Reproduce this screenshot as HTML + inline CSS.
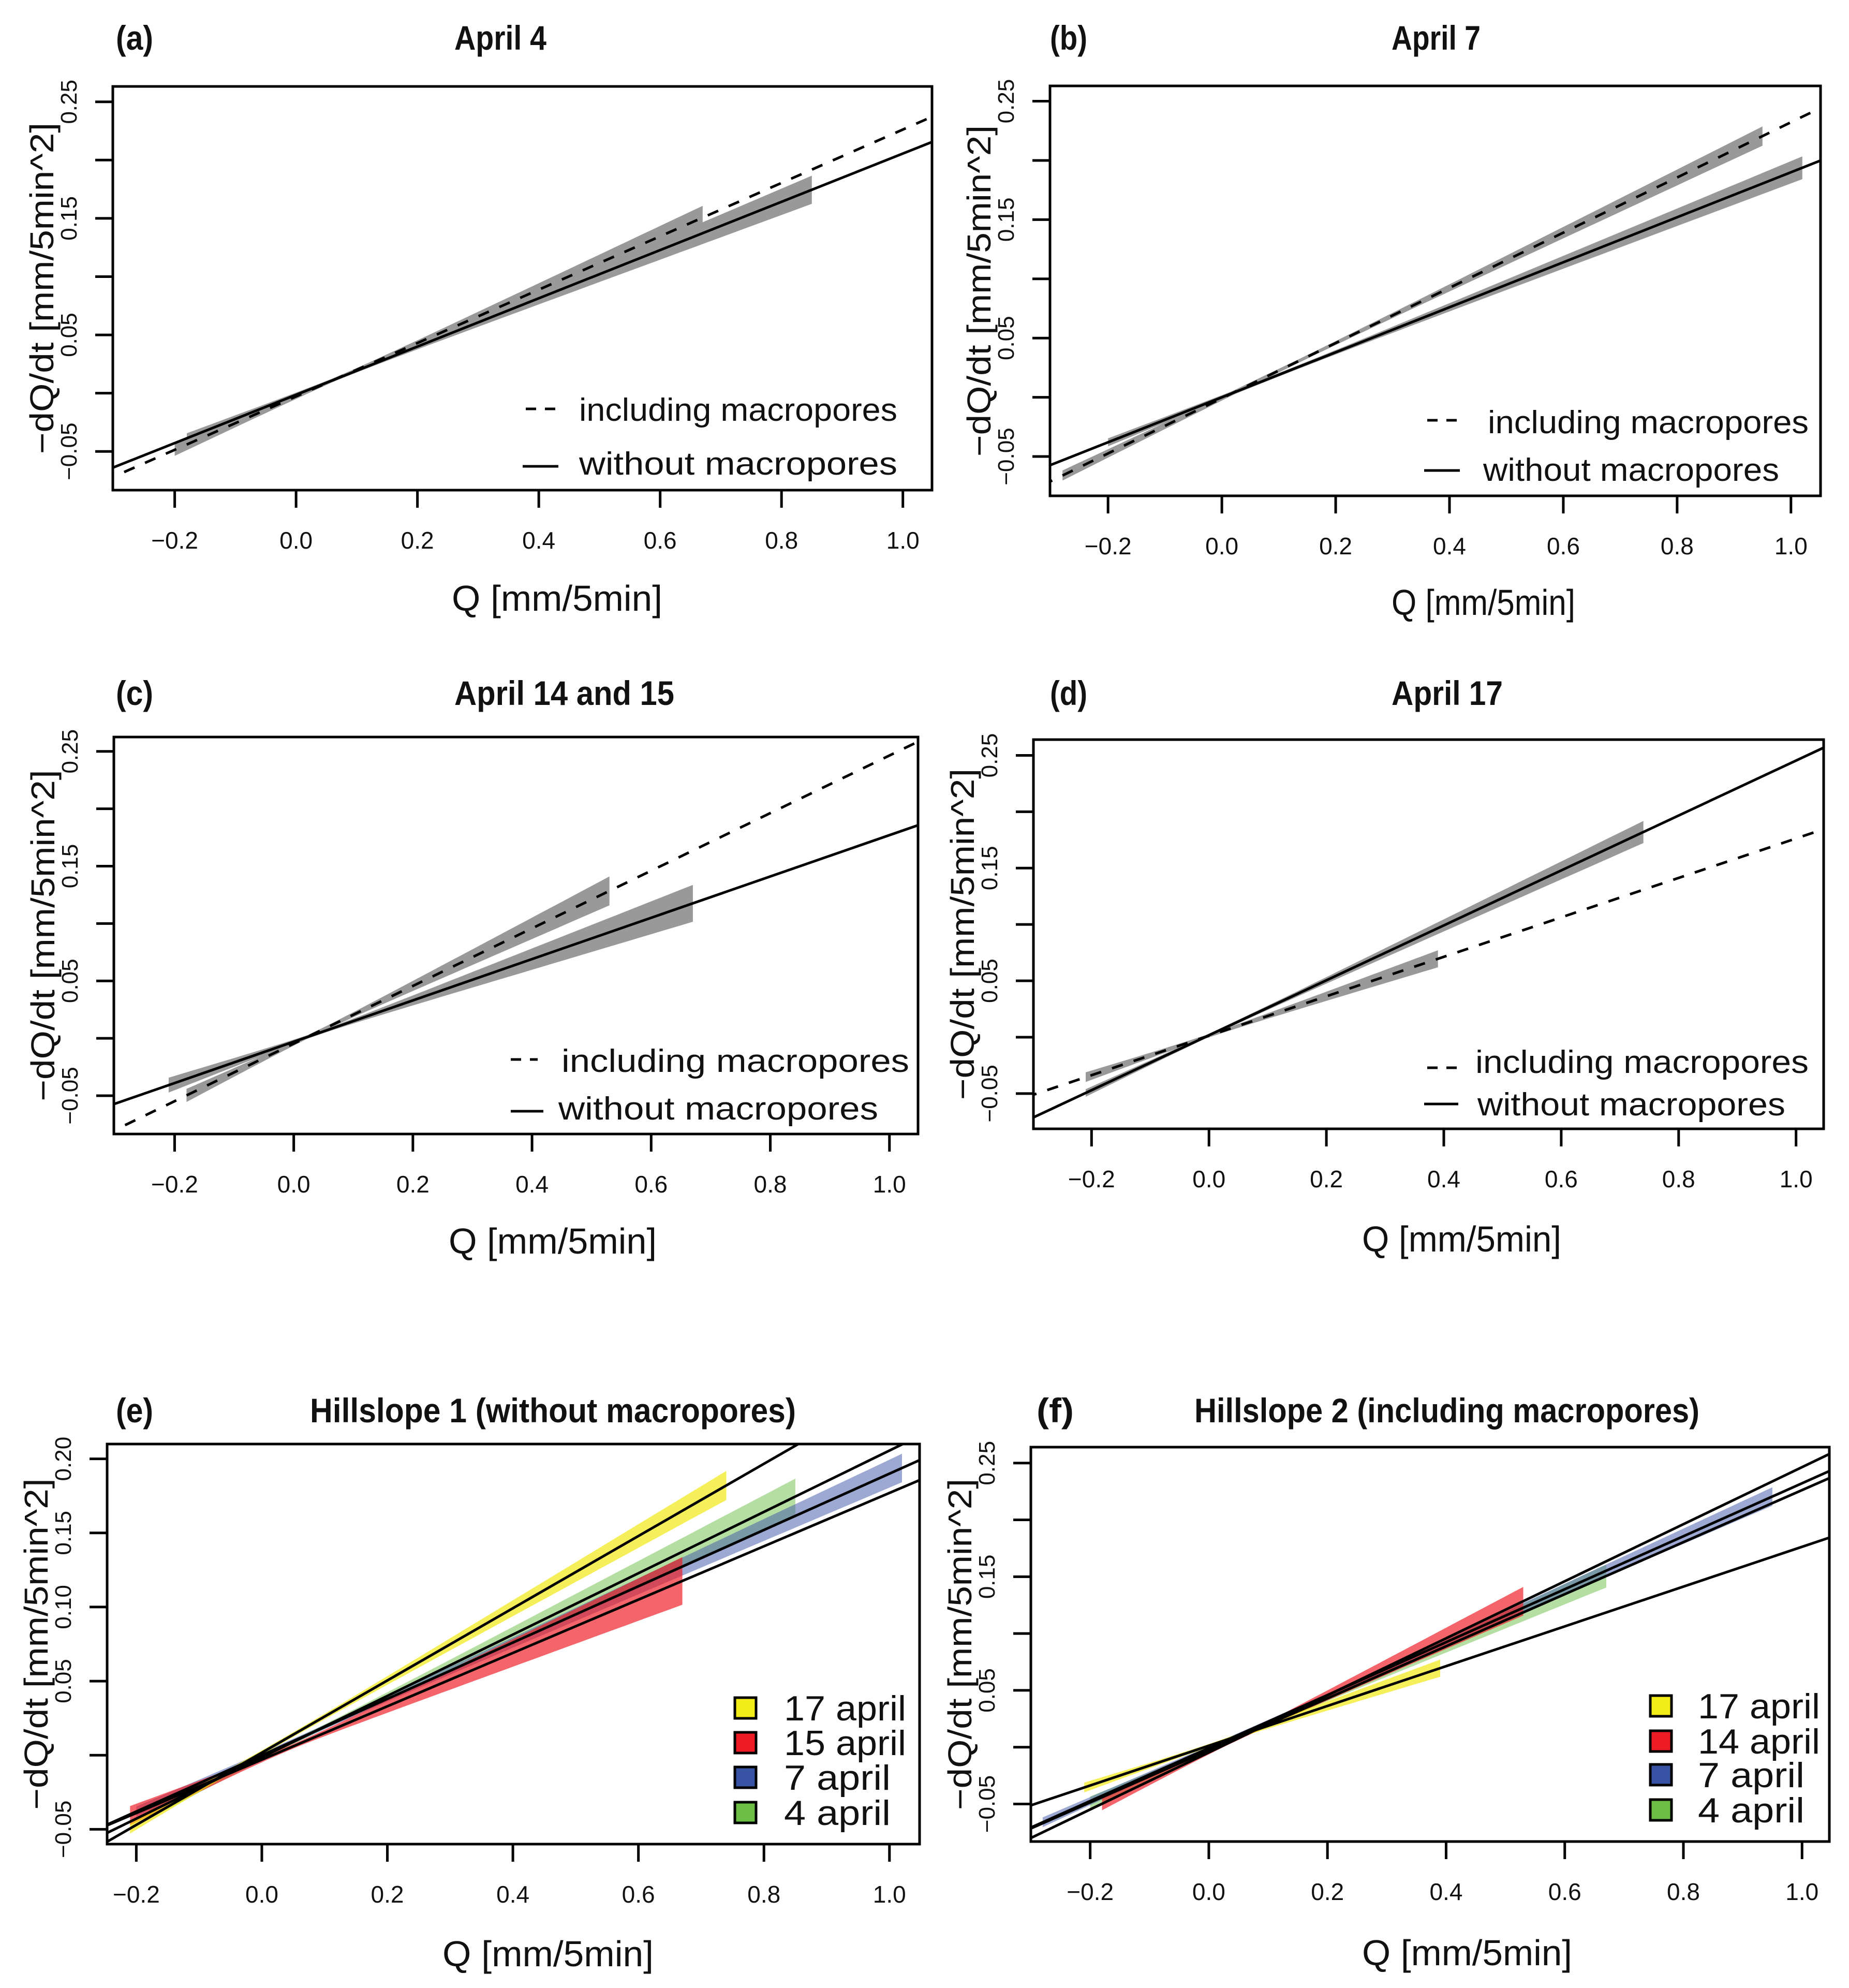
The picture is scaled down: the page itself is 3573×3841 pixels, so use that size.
<!DOCTYPE html>
<html><head><meta charset="utf-8">
<style>
html,body{margin:0;padding:0;background:#fff;}
svg{display:block;}
text{font-family:"Liberation Sans",sans-serif;fill:#111;}
</style></head>
<body>
<svg id="fig" width="3573" height="3841" viewBox="0 0 3573 3841" xmlns="http://www.w3.org/2000/svg"></svg>
<script>
// ---- data (panels a-d: April 4, April 7, April 14 and 15, April 17) ----
const panelDates = ['April 4','April 7','April 14 and 15','April 17'];
const slopeIncl = [0.229, 0.233, 0.251, 0.175];
const interIncl = [-0.0028, -0.0008, -0.0046, 0.0013];
const slopeWith = [0.207, 0.190, 0.180, 0.2437];
const interWith = [-0.0014, 0.0, -0.003, 0.0017];
const bandInclStart = [-0.20, -0.28, -0.18, -0.21];
const bandInclEnd = [0.67, 0.95, 0.53, 0.39];
const bandInclHalf0 = [0.005, 0.004, 0.0055, 0.004];
const bandInclHalf1 = [0.010, 0.008, 0.0125, 0.0074];
const bandWithStart = [-0.18, -0.20, -0.21, -0.21];
const bandWithEnd = [0.85, 1.02, 0.67, 0.74];
const bandWithHalf0 = [0.004, 0.003, 0.0063, 0.003];
const bandWithHalf1 = [0.012, 0.0095, 0.016, 0.0097];
const xTicks = [-0.2, 0.0, 0.2, 0.4, 0.6, 0.8, 1.0];
const xTickLabels = ['\u22120.2','0.0','0.2','0.4','0.6','0.8','1.0'];
const yTicks = [-0.05, 0.0, 0.05, 0.10, 0.15, 0.20, 0.25];
const yTickLabels = ['\u22120.05','','0.05','','0.15','','0.25'];
const yTicksE = [-0.05, 0.0, 0.05, 0.10, 0.15, 0.20];
const yTickLabelsE = ['\u22120.05','','0.05','0.10','0.15','0.20'];
const legendE = ['17 april','15 april','7 april','4 april'];
const legendF = ['17 april','14 april','7 april','4 april'];
const legendIdx = [3, 2, 1, 0];

const NS = 'http://www.w3.org/2000/svg';
const fig = document.getElementById('fig');
const bandFill = ['rgba(108,190,69,0.5)','rgba(59,84,168,0.5)','rgba(237,28,36,0.68)','rgba(240,232,0,0.65)'];
const swatch = ['#6cbe45','#3953a4','#ed1c24','#f2ec1a'];

function mk(tag, attrs, parent){
  const e = document.createElementNS(NS, tag);
  for (const k in attrs) e.setAttribute(k, attrs[k]);
  (parent||fig).appendChild(e);
  return e;
}
function txt(s, x, y, size, opts, parent){
  const t = mk('text', Object.assign({x:x, y:y, 'font-size':size}, opts||{}), parent);
  t.textContent = s;
  return t;
}

const panels = [
 {id:'a', box:[218,167,1801,947], xlim:[-0.302,1.048], ylim:[-0.0832,0.2632], lab:'(a)', labX:224, title:panelDates[0], tX:878, tW:178, tY:96, xtX:873, xtW:407, xtY:1180,
   leg:[1016,1073,790,1119,615,813, 1010,1079,901,1119,615,917]},
 {id:'b', box:[2029,166,3518,958], xlim:[-0.302,1.052], ylim:[-0.0832,0.2629], lab:'(b)', labX:2029, title:panelDates[1], tX:2689, tW:172, tY:96, xtX:2689, xtW:355, xtY:1188,
   leg:[2758,2815,812,2875,620,837, 2752,2821,909,2866,572,929]},
 {id:'c', box:[220,1424,1774,2191], xlim:[-0.302,1.048], ylim:[-0.0834,0.2625], lab:'(c)', labX:224, title:panelDates[2], tX:878, tW:425, tY:1362, xtX:867, xtW:402, xtY:2422,
   leg:[987,1039,2047,1085,672,2071, 987,1050,2147,1079,618,2163]},
 {id:'d', box:[1997,1429,3524,2181], xlim:[-0.299,1.047], ylim:[-0.0813,0.264], lab:'(d)', labX:2029, title:panelDates[3], tX:2689, tW:215, tY:1362, xtX:2632, xtW:385, xtY:2418,
   leg:[2758,2815,2063,2851,644,2073, 2752,2818,2133,2855,595,2155]},
 {id:'e', box:[207,2790,1777,3563], xlim:[-0.2465,1.048], ylim:[-0.060,0.210], lab:'(e)', labX:224, title:'Hillslope 1 (without macropores)', tX:599, tW:939, tY:2748, xtX:855, xtW:408, xtY:3799},
 {id:'f', box:[1992,2796,3535,3558], xlim:[-0.300,1.046], ylim:[-0.083,0.264], lab:'(f)', labX:2003, title:'Hillslope 2 (including macropores)', tX:2308, tW:976, tY:2748, xtX:2632, xtW:406, xtY:3797}
];

function bandPath(sx, sy, m, b, x0, x1, h0, h1){
  const xc = (h1*x0 + h0*x1)/(h0+h1);
  const c = (h0+h1)/(x1-x0);
  const hmin = 0.0015;
  const up = [], lo = [];
  const N = 48;
  for (let i=0;i<=N;i++){
    const x = x0 + (x1-x0)*i/N;
    const h = Math.sqrt(hmin*hmin + c*c*(x-xc)*(x-xc));
    const y = m*x + b;
    up.push(sx(x).toFixed(1)+','+sy(y+h).toFixed(1));
    lo.push(sx(x).toFixed(1)+','+sy(y-h).toFixed(1));
  }
  return 'M'+up.join('L')+'L'+lo.reverse().join('L')+'Z';
}

panels.forEach((p, pi) => {
  const [L,T,R,B] = p.box;
  const sx = v => L + (v - p.xlim[0])/(p.xlim[1]-p.xlim[0])*(R-L);
  const sy = v => B - (v - p.ylim[0])/(p.ylim[1]-p.ylim[0])*(B-T);
  const g = mk('g', {});
  
  
  const cp = mk('clipPath', {id:'clip-'+p.id}, g);
  mk('rect', {x:L, y:T, width:R-L, height:B-T}, cp);
  const plot = mk('g', {'clip-path':'url(#clip-'+p.id+')'}, g);
  
  

  if (pi < 4) {
    // grey confidence bands
    const bi = mk('path', {d:bandPath(sx,sy,slopeIncl[pi],interIncl[pi],bandInclStart[pi],bandInclEnd[pi],bandInclHalf0[pi],bandInclHalf1[pi]), fill:'#999999'}, plot);
    
    
    const bw = mk('path', {d:bandPath(sx,sy,slopeWith[pi],interWith[pi],bandWithStart[pi],bandWithEnd[pi],bandWithHalf0[pi],bandWithHalf1[pi]), fill:'#999999'}, plot);
    
    
    const xa = p.xlim[0]-0.05, xb = p.xlim[1]+0.05;
    const ld = mk('line', {x1:sx(xa), y1:sy(slopeIncl[pi]*xa+interIncl[pi]), x2:sx(xb), y2:sy(slopeIncl[pi]*xb+interIncl[pi]), stroke:'#000', 'stroke-width':5, 'stroke-dasharray':'22 22'}, plot);
    
    
    const ls = mk('line', {x1:sx(xa), y1:sy(slopeWith[pi]*xa+interWith[pi]), x2:sx(xb), y2:sy(slopeWith[pi]*xb+interWith[pi]), stroke:'#000', 'stroke-width':5}, plot);
    
    
  } else {
    const useWith = (p.id === 'e');
    const sl = useWith ? slopeWith : slopeIncl;
    const ic = useWith ? interWith : interIncl;
    const bs = useWith ? bandWithStart : bandInclStart;
    const be = useWith ? bandWithEnd : bandInclEnd;
    const h0 = useWith ? bandWithHalf0 : bandInclHalf0;
    const h1 = useWith ? bandWithHalf1 : bandInclHalf1;
    for (let k=0;k<4;k++){
      const band = mk('path', {d:bandPath(sx,sy,sl[k],ic[k],bs[k],be[k],h0[k],h1[k]), fill:bandFill[k]}, plot);
      
      
    }
    const xa = p.xlim[0]-0.05, xb = p.xlim[1]+0.05;
    for (let k=0;k<4;k++){
      const ln = mk('line', {x1:sx(xa), y1:sy(sl[k]*xa+ic[k]), x2:sx(xb), y2:sy(sl[k]*xb+ic[k]), stroke:'#000', 'stroke-width':5}, plot);
      
      
    }
  }

  // frame
  const fr = mk('rect', {x:L, y:T, width:R-L, height:B-T, fill:'none', stroke:'#000', 'stroke-width':5}, g);
  
  

  // x axis
  xTicks.forEach((v,i) => {
    const tk = mk('line', {x1:sx(v), y1:B, x2:sx(v), y2:B+34, stroke:'#000', 'stroke-width':5}, g);
    
    
    const tl = txt(xTickLabels[i], sx(v), B+113, 46, {'text-anchor':'middle', 'font-family':'"Liberation Sans Narrow","Liberation Sans",sans-serif'}, g);
    
    
  });
  // y axis
  const yt = (p.id === 'e') ? yTicksE : yTicks;
  const ytl = (p.id === 'e') ? yTickLabelsE : yTickLabels;
  yt.forEach((v,i) => {
    const tk = mk('line', {x1:L-34, y1:sy(v), x2:L, y2:sy(v), stroke:'#000', 'stroke-width':5}, g);
    
    
    if (ytl[i]) {
      const cx = L-70, cy = sy(v);
      const tl = txt(ytl[i], cx, cy, 44, {'text-anchor':'middle', transform:'rotate(-90 '+cx+' '+cy+')'}, g);
      
      
    }
  });
  // y title
  const ycx = L-115, ycy = (T+B)/2;
  const ytt = txt('\u2212dQ/dt [mm/5min^2]', ycx, ycy, 64, {'text-anchor':'middle', transform:'rotate(-90 '+ycx+' '+ycy+')', textLength:640, lengthAdjust:'spacingAndGlyphs'}, g);
  
  
  // x title
  const xtt = txt('Q [mm/5min]', p.xtX, p.xtY, 70, {textLength:p.xtW, lengthAdjust:'spacingAndGlyphs'}, g);
  
  
  // titles
  const pl = txt(p.lab, p.labX, p.tY, 66, {'font-weight':'bold', 'font-family':'"Liberation Sans Narrow","Liberation Sans",sans-serif', textLength:72, lengthAdjust:'spacingAndGlyphs'}, g);
  
  
  const pt = txt(p.title, p.tX, p.tY, 66, {'font-weight':'bold', 'font-family':'"Liberation Sans Narrow","Liberation Sans",sans-serif', textLength:p.tW, lengthAdjust:'spacingAndGlyphs'}, g);
  
  

  // legends
  if (pi < 4) {
    const q = p.leg;
    const lg = mk('g', {}, g);
    
    
    const d1 = mk('line', {x1:q[0], y1:q[2], x2:q[1], y2:q[2], stroke:'#000', 'stroke-width':5, 'stroke-dasharray':'20 17'}, lg);
    
    
    const t1 = txt('including macropores', q[3], q[5], 62, {textLength:q[4], lengthAdjust:'spacingAndGlyphs'}, lg);
    
    
    const d2 = mk('line', {x1:q[6], y1:q[8], x2:q[7], y2:q[8], stroke:'#000', 'stroke-width':5}, lg);
    
    
    const t2 = txt('without macropores', q[9], q[11], 62, {textLength:q[10], lengthAdjust:'spacingAndGlyphs'}, lg);
    
    
  } else {
    const labels = (p.id === 'e') ? legendE : legendF;
    const sqX = (p.id === 'e') ? 1420 : 3189;
    const txX = (p.id === 'e') ? 1515 : 3281;
    const cys = (p.id === 'e') ? [3300,3367,3434,3502] : [3296,3364,3429,3497];
    const lg = mk('g', {}, g);
    
    
    labels.forEach((s,i) => {
      const k = legendIdx[i];
      const sq = mk('rect', {x:sqX, y:cys[i]-20, width:41, height:40, fill:swatch[k], stroke:'#000', 'stroke-width':5}, lg);
      
      
      const w = s.length === 8 ? 236 : 206;
      const t = txt(s, txX, cys[i]+24, 68, {textLength:w, lengthAdjust:'spacingAndGlyphs'}, lg);
      
      
    });
  }
});
</script>
</body></html>
